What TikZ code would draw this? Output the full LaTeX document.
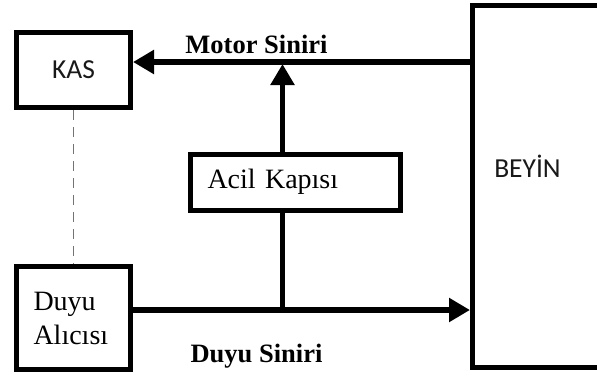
\documentclass[tikz,border=0pt]{standalone}
\usepackage{fontspec}
\setmainfont{Liberation Serif}
\newfontfamily\sansfnt{Carlito}
\usepackage{tikz}
\usetikzlibrary{positioning,arrows.meta,calc}

\begin{document}
\begin{tikzpicture}[x=1pt,y=-1pt,
  every node/.style={align=center},
  blok/.style={rectangle,draw=black,line width=5pt,inner sep=0pt},
  sbig/.style={font=\sansfnt\fontsize{27.5}{32}\selectfont,text=black!90},
  rbig/.style={font=\fontsize{28}{34}\selectfont},
  sinir/.style={font=\bfseries\fontsize{26.5}{32}\selectfont,anchor=base},
  arr/.style={-{Triangle[length=21pt,width=23pt]},line width=5.5pt},
  wire/.style={line width=5.5pt},
  dash line/.style={draw=black!55,line width=1.5pt,dash pattern=on 10pt off 7pt},
]
\useasboundingbox (0,0) rectangle (597,376);
\clip (0,0) rectangle (597,376);

\node[blok,sbig,minimum width=114pt,minimum height=75pt] (kas) at (73.5,70) {KAS};
\node[blok,minimum width=167.5pt,minimum height=362pt] (beyin) at (556.25,186.5) {};
\node[sbig,anchor=base] (beyinTxt) at (527.5,177) {BEY\.{I}N};
\node[blok,rbig,minimum width=210pt,minimum height=55.5pt,text width=176pt,align=left] (acil) at (295.5,182.25) {Acil Kapısı};
\node[blok,rbig,minimum width=114pt,minimum height=103pt,text width=80pt,align=left] (duyu) at (73.5,318) {Duyu\\Alıcısı};

% junctions on the two nerve lines
\coordinate (mtr) at (282.5,62);
\coordinate (dsn) at (282.5,310);

\node[sinir] (motorLbl) at (256.5,53) {Motor Siniri};
\node[sinir] (duyuLbl) at (256.5,362) {Duyu Siniri};

\draw[arr] (beyin.west |- mtr) -- (kas.east |- mtr);
\draw[arr,shorten >=2pt] (acil.north -| mtr) -- (mtr);
\draw[wire] (acil.south -| dsn) -- (dsn);
\draw[arr] (duyu.east |- dsn) -- (beyin.west |- dsn);
\draw[dash line] (kas.south) -- (duyu.north -| kas.south);
\end{tikzpicture}
\end{document}
